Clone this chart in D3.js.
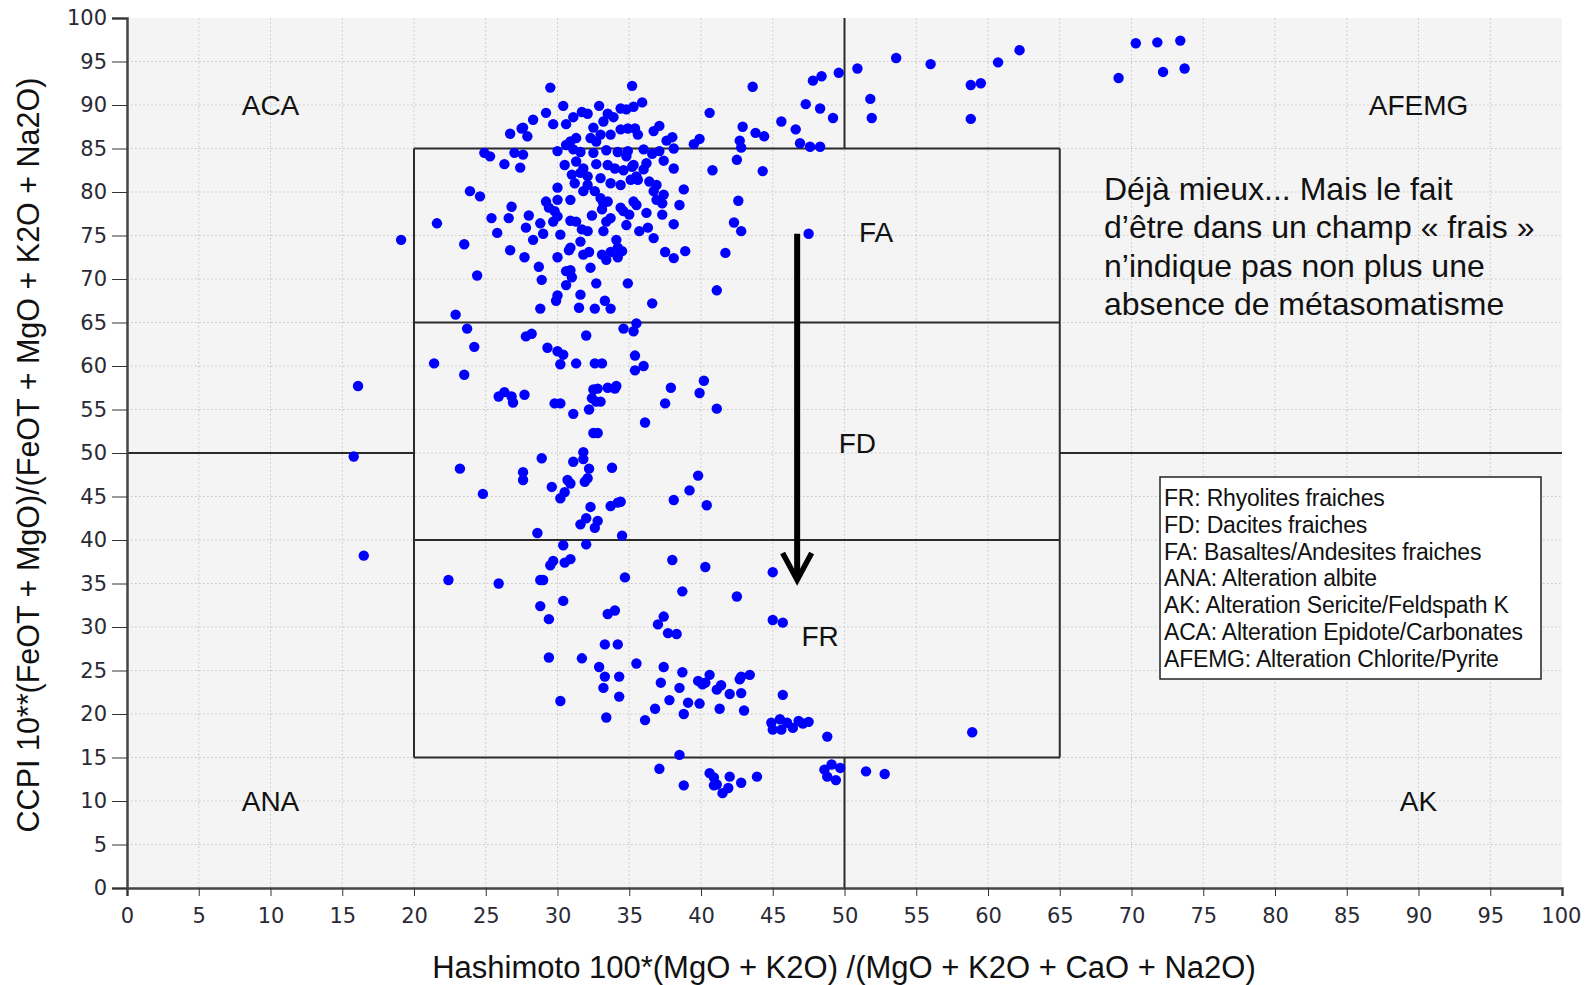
<!DOCTYPE html>
<html>
<head>
<meta charset="utf-8">
<script src="https://cdn.jsdelivr.net/npm/d3@7"></script>
<style>
  body { margin: 0; background: #fff; }
  svg { display: block; }
</style>
</head>
<body>
<div id="chart"></div>
<script>
// points, grouped by band
const ptsTop = [
  [62.2,96.3],[70.3,97.1],[71.8,97.2],[73.4,97.4],[53.6,95.4],[56.0,94.7],[58.8,92.3],[59.5,92.5],[60.7,94.9],
  [69.1,93.1],[72.2,93.8],[73.7,94.2],[58.8,88.4],[50.9,94.2],[49.6,93.7],[48.4,93.3],[47.8,92.8],[51.8,90.7],
  [51.9,88.5],[47.3,90.1],[48.3,89.6],[49.2,88.5],[45.6,88.1],[46.6,87.2],[46.9,85.6],[47.6,85.2],[48.3,85.2],
  [43.6,92.1],[40.6,89.1],[42.9,87.5],[43.8,86.8],[44.4,86.4],[42.7,85.9],[42.8,85.1],[39.5,85.5],[39.9,86.1],
  [29.5,92.0],[35.2,92.2],[30.4,89.9],[32.9,89.9],[35.9,90.3],[29.2,89.1],[28.3,88.3],[27.6,87.4],[27.9,86.4],
  [26.7,86.7],[29.7,87.8],[30.6,87.8],[31.1,88.6],[31.7,89.2],[32.1,89.0],[32.5,87.4],[33.5,89.0],[33.9,88.6],
  [34.4,89.6],[34.8,89.5],[35.3,89.8],[33.2,88.1],[34.4,87.2],[34.9,87.3],[35.4,87.3],[33.7,86.6],[33.0,86.6],
  [32.7,85.8],[32.3,86.2],[31.3,86.2],[30.9,85.8],[30.6,85.4],[35.6,86.6],[36.7,87.0],[37.1,87.6],[37.6,85.9],
  [38.0,86.3],[27.5,87.3]
];
const ptsFA = [
  [30.0,84.7],[31.1,84.9],[31.6,84.6],[32.5,84.5],[33.4,84.8],[34.2,84.6],[34.9,84.7],[36.0,84.9],[36.6,84.4],
  [37.1,84.7],[38.1,85.0],[27.0,84.5],[27.6,84.3],[24.9,84.5],[25.3,84.1],[26.3,83.2],[27.4,82.8],
  [30.5,83.1],[31.3,83.5],[31.8,82.7],[32.7,83.2],[33.5,83.1],[34.0,82.7],[34.6,82.5],[35.3,83.1],[36.2,83.3],
  [37.4,83.6],[38.1,82.7],[31.0,82.0],[31.6,82.2],[32.1,81.8],[33.0,81.6],[33.7,81.0],[34.4,80.8],[35.1,81.4],
  [35.5,81.8],[36.4,81.2],[36.9,80.8],[31.2,81.0],[32.1,80.8],[34.8,84.1],[35.2,82.9],[36.0,82.6],[35.6,81.4],
  [30.0,80.5],[29.2,78.9],[29.4,78.2],[29.8,77.8],[30.0,79.1],[30.9,79.1],[31.8,80.1],[33.0,79.3],[33.2,78.7],
  [33.5,78.9],[34.4,78.2],[34.6,77.8],[35.3,78.9],[35.5,78.5],[36.7,80.1],[36.9,79.1],[37.4,79.7],[37.3,78.7],
  [38.8,80.3],[38.5,78.5],[32.6,80.1],[26.8,78.3],[26.6,77.0],[28.0,77.3],[27.8,75.9],[28.8,76.4],[29.0,75.2],
  [28.3,74.5],[30.0,77.2],[29.7,76.6],[30.2,75.1],[30.9,76.7],[31.3,76.6],[31.7,75.7],[32.1,75.5],[32.4,77.3],
  [33.1,78.0],[33.4,76.6],[33.7,77.0],[33.2,75.5],[23.9,80.1],[24.6,79.5],[21.6,76.4],[25.4,77.0],[25.8,75.3],
  [19.1,74.5],[23.5,74.0],[26.7,73.3],[27.7,72.5],[28.7,71.4],[28.9,69.9],[24.4,70.4],[30.0,72.5],[30.8,73.3],
  [31.8,72.8],[32.2,73.1],[33.1,72.8],[33.4,72.2],[33.7,73.1],[34.2,72.5],[34.5,73.2],[37.5,73.1],[38.1,72.4],
  [38.9,73.2],[31.6,74.3],[30.9,73.6],[30.6,70.9],[30.9,71.0],[31.0,70.2],[30.6,69.3],[32.3,71.3],[32.7,69.5],
  [31.6,68.2],[30.0,68.1],[29.9,67.5],[28.8,66.6],[31.5,66.7],[32.6,66.6],[33.3,67.5],[33.7,66.6],[34.9,69.5],
  [36.6,67.2],[41.1,68.7],[34.1,74.5],[34.2,73.6],[34.8,76.2],[35.0,77.4],[36.2,77.6],[36.3,75.9],[36.7,74.7],
  [37.3,77.4],[38.1,76.3],[42.6,79.0],[42.3,76.5],[42.8,75.5],[41.7,73.0],[47.5,75.2],[42.5,83.7],[44.3,82.4],
  [40.8,82.5],[35.7,75.5],[22.9,65.9]
];
const ptsFD = [
  [23.7,64.3],[24.2,62.2],[21.4,60.3],[23.5,59.0],[16.1,57.7],[27.8,63.4],[28.2,63.7],[29.3,62.1],[30.0,61.7],
  [30.4,61.3],[30.2,60.2],[31.3,60.3],[32.0,63.5],[32.6,60.3],[33.1,60.3],[34.6,64.3],[35.3,64.0],[35.5,64.9],
  [35.4,61.2],[35.4,59.5],[36.0,60.0],[26.3,57.0],[25.9,56.5],[26.8,56.5],[26.9,55.8],[27.7,56.7],[29.8,55.7],
  [30.2,55.7],[31.1,54.5],[32.2,55.0],[32.5,57.3],[32.8,57.4],[32.4,56.3],[32.7,55.9],[33.0,55.9],[33.5,57.5],
  [34.1,57.7],[34.0,57.4],[36.1,53.5],[37.5,55.7],[37.9,57.5],[39.9,56.9],[40.2,58.3],[41.1,55.1],[32.5,52.3],
  [32.8,52.3],[15.8,49.6],[23.2,48.2],[24.8,45.3],[27.6,47.8],[27.6,46.9],[28.9,49.4],[29.6,46.1],[30.2,44.8],
  [30.5,45.5],[30.7,46.9],[30.9,46.5],[31.1,49.0],[31.8,50.1],[31.8,49.3],[32.2,48.2],[32.1,47.1],[31.9,46.7],
  [33.8,48.3],[32.3,43.8],[33.7,43.9],[34.4,44.4],[34.2,44.3],[32.0,42.5],[32.8,42.2],[31.6,41.8],[32.6,41.4],
  [28.6,40.8],[34.5,40.5],[38.1,44.6],[39.2,45.7],[39.8,47.4],[40.4,44.0]
];
const ptsFR = [
  [16.5,38.2],[30.4,39.4],[32.0,39.5],[29.5,37.1],[29.7,37.6],[30.5,37.4],[30.9,37.8],[28.8,35.4],[29.0,35.4],
  [25.9,35.0],[22.4,35.4],[30.4,33.0],[28.8,32.4],[29.4,30.9],[34.7,35.7],[33.5,31.5],[34.0,31.9],[37.4,31.2],
  [38.0,37.7],[38.7,34.1],[40.3,36.9],[45.0,36.3],[42.5,33.5],[37.0,30.3],[37.7,29.3],[38.3,29.2],[45.0,30.8],
  [45.7,30.5],[29.4,26.5],[31.7,26.4],[33.3,28.0],[34.2,28.0],[32.9,25.4],[33.3,24.3],[34.3,24.3],[33.2,23.0],
  [34.3,22.0],[30.2,21.5],[33.4,19.6],[35.5,25.8],[37.4,25.4],[38.7,24.8],[37.2,23.6],[38.5,23.0],[37.8,21.6],
  [36.8,20.6],[36.1,19.3],[38.8,20.0],[39.1,21.3],[39.9,21.2],[39.8,23.8],[40.1,23.4],[40.3,23.6],[40.6,24.5],
  [41.1,22.8],[41.4,23.3],[42.0,22.3],[41.3,20.6],[42.8,22.4],[43.0,20.4],[42.7,24.0],[42.8,24.3],[43.4,24.5],
  [45.7,22.2],[44.9,19.0],[45.0,18.2],[45.5,19.4],[45.6,18.2],[46.0,19.0],[46.4,18.4],[46.8,19.2],[47.1,18.9],
  [47.5,19.1],[48.8,17.4],[58.9,17.9]
];
const ptsLow = [
  [38.5,15.3],[37.1,13.7],[38.8,11.8],[40.6,13.2],[40.9,12.7],[40.9,11.8],[41.5,10.9],[42.0,12.8],[41.9,11.5],
  [42.8,12.1],[43.9,12.8],[41.1,11.9],[48.6,13.6],[49.1,14.2],[49.7,13.8],[48.8,12.8],[49.4,12.4],[51.5,13.4],
  [52.8,13.1]
];

// field boundaries [x1, y1, x2, y2]
const fieldLines = [
  [50, 100, 50, 85], [50, 15, 50, 0], [0, 50, 20, 50], [65, 50, 100, 50],
  [20, 15, 65, 15], [20, 85, 65, 85], [20, 15, 20, 85], [65, 15, 65, 85],
  [20, 65, 65, 65], [20, 40, 65, 40]
];
const zoneNames = ["ACA", "AFEMG", "ANA", "AK", "FA", "FD", "FR"];
const zoneX = [10, 90, 10, 90, 52.2, 50.9, 48.3];
const zoneY = [90, 90, 10, 10, 75.3, 51.1, 28.9];

const legendLines = [
  "FR: Rhyolites fraiches",
  "FD: Dacites fraiches",
  "FA: Basaltes/Andesites fraiches",
  "ANA: Alteration albite",
  "AK: Alteration Sericite/Feldspath K",
  "ACA: Alteration Epidote/Carbonates",
  "AFEMG: Alteration Chlorite/Pyrite"
];
const noteLines = [
  "Déjà mieux... Mais le fait",
  "d’être dans un champ « frais »",
  "n’indique pas non plus une",
  "absence de métasomatisme"
];
const arrowX = 46.7, arrowTop = 75.2, arrowTip = 35.4;
const ticks = d3.range(0, 101, 5);

const width = 1585, height = 985;
const margin = { left: 127, right: 23, top: 18, bottom: 97 };
const innerWidth = width - margin.left - margin.right;
const innerHeight = height - margin.top - margin.bottom;

const svg = d3.select("#chart")
  .append("svg")
  .attr("width", width)
  .attr("height", height);

const g = svg.append("g")
  .attr("transform", `translate(${margin.left}, ${margin.top})`);

const x = d3.scaleLinear().domain([0, 100]).range([0, innerWidth]);
const y = d3.scaleLinear().domain([0, 100]).range([innerHeight, 0]);

g.append("rect")
  .attr("width", innerWidth)
  .attr("height", innerHeight)
  .attr("fill", "#f4f4f4");

// dotted grid
g.append("g")
  .selectAll("line")
  .data(ticks.slice(1, -1))
  .join("line")
  .attr("x1", d => x(d)).attr("x2", d => x(d))
  .attr("y1", 0).attr("y2", innerHeight)
  .attr("stroke", "#c6c6c6")
  .attr("stroke-dasharray", "1.5,2.5");

g.append("g")
  .selectAll("line")
  .data(ticks.slice(1, -1))
  .join("line")
  .attr("y1", d => y(d)).attr("y2", d => y(d))
  .attr("x1", 0).attr("x2", innerWidth)
  .attr("stroke", "#c6c6c6")
  .attr("stroke-dasharray", "1.5,2.5");

// field lines
g.append("g")
  .selectAll("line")
  .data(fieldLines)
  .join("line")
  .attr("x1", d => x(d[0])).attr("y1", d => y(d[1]))
  .attr("x2", d => x(d[2])).attr("y2", d => y(d[3]))
  .attr("stroke", "#2b2b2b")
  .attr("stroke-width", 2);

// axes
const xAxis = g.append("g")
  .attr("transform", `translate(0, ${innerHeight})`)
  .call(d3.axisBottom(x).tickValues(ticks).tickSize(8).tickPadding(12));
const yAxis = g.append("g")
  .call(d3.axisLeft(y).tickValues(ticks).tickSize(15).tickPadding(5));

[xAxis, yAxis].forEach(a => {
  a.selectAll("text")
    .style("font-family", "'DejaVu Sans', Verdana, sans-serif")
    .style("font-size", "21px")
    .attr("fill", "#2a2a35");
  a.selectAll("line").attr("stroke", "#333");
  a.select(".domain").attr("stroke", "#444").attr("stroke-width", 2.5);
});
// keep the last x tick inside the page
xAxis.selectAll(".tick:last-of-type text").attr("text-anchor", "end").attr("dx", "0.9em");

// arrow
g.append("line")
  .attr("x1", x(arrowX)).attr("x2", x(arrowX))
  .attr("y1", y(arrowTop)).attr("y2", y(arrowTip) - 3)
  .attr("stroke", "#000")
  .attr("stroke-width", 6);
g.append("path")
  .attr("d", `M${x(arrowX) - 14.5},${y(arrowTip) - 27} L${x(arrowX)},${y(arrowTip)} L${x(arrowX) + 14.5},${y(arrowTip) - 27}`)
  .attr("fill", "none")
  .attr("stroke", "#000")
  .attr("stroke-width", 5.5);

// points
const allPts = [...ptsTop, ...ptsFA, ...ptsFD, ...ptsFR, ...ptsLow];
g.append("g")
  .selectAll("circle")
  .data(allPts)
  .join("circle")
  .attr("cx", d => x(d[0]))
  .attr("cy", d => y(d[1]))
  .attr("r", 5.2)
  .attr("fill", "#0000ff");

// zone labels
g.append("g")
  .selectAll("text")
  .data(zoneNames)
  .join("text")
  .attr("x", (d, i) => x(zoneX[i]))
  .attr("y", (d, i) => y(zoneY[i]))
  .attr("text-anchor", "middle")
  .attr("dominant-baseline", "central")
  .style("font-family", "'Liberation Sans', Arial, sans-serif")
  .style("font-size", "28px")
  .attr("fill", "#111")
  .text(d => d);

// legend box
const legend = svg.append("g").attr("transform", "translate(1160, 477)");
legend.append("rect")
  .attr("width", 381)
  .attr("height", 202)
  .attr("fill", "#fff")
  .attr("stroke", "#222")
  .attr("stroke-width", 1.5);
legend.selectAll("text")
  .data(legendLines)
  .join("text")
  .attr("x", 4)
  .attr("y", (d, i) => 29 + i * 26.8)
  .style("font-family", "'Liberation Sans', Arial, sans-serif")
  .style("font-size", "23px")
  .style("letter-spacing", "-0.2px")
  .attr("fill", "#111")
  .text(d => d);

// note
svg.append("g")
  .selectAll("text")
  .data(noteLines)
  .join("text")
  .attr("x", 1104)
  .attr("y", (d, i) => 200 + i * 38.4)
  .style("font-family", "'Liberation Sans', Arial, sans-serif")
  .style("font-size", "32px")
  .attr("fill", "#111")
  .text(d => d);

// axis titles
svg.append("text")
  .attr("x", 844)
  .attr("y", 978)
  .attr("text-anchor", "middle")
  .style("font-family", "'Liberation Sans', Arial, sans-serif")
  .style("font-size", "31px")
  .attr("fill", "#111")
  .text("Hashimoto 100*(MgO + K2O) /(MgO + K2O + CaO + Na2O)");

svg.append("text")
  .attr("transform", "translate(39, 455) rotate(-90)")
  .attr("text-anchor", "middle")
  .style("font-family", "'Liberation Sans', Arial, sans-serif")
  .style("font-size", "30.5px")
  .attr("fill", "#111")
  .text("CCPI 10**(FeOT + MgO)/(FeOT + MgO + K2O + Na2O)");
</script>
</body>
</html>
